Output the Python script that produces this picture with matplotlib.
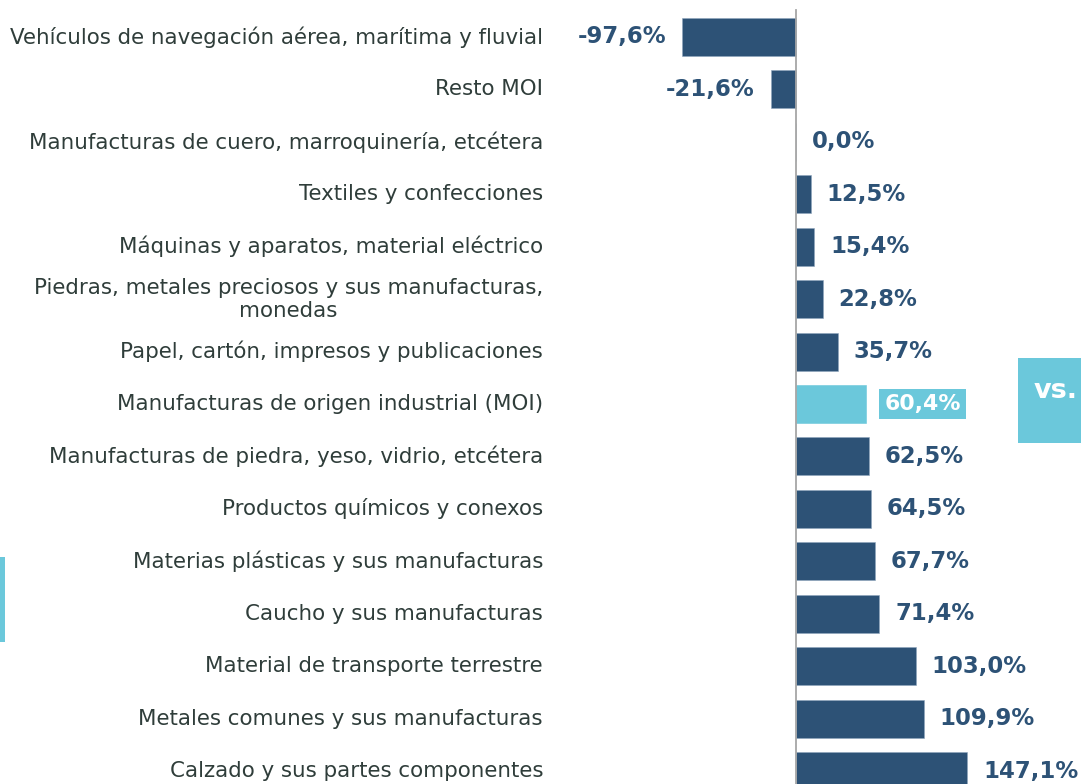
import matplotlib
matplotlib.use("Agg")
import matplotlib.pyplot as plt
from matplotlib.patches import Rectangle

categories = [
    "Vehículos de navegación aérea, marítima y fluvial",
    "Resto MOI",
    "Manufacturas de cuero, marroquinería, etcétera",
    "Textiles y confecciones",
    "Máquinas y aparatos, material eléctrico",
    "Piedras, metales preciosos y sus manufacturas,\nmonedas",
    "Papel, cartón, impresos y publicaciones",
    "Manufacturas de origen industrial (MOI)",
    "Manufacturas de piedra, yeso, vidrio, etcétera",
    "Productos químicos y conexos",
    "Materias plásticas y sus manufacturas",
    "Caucho y sus manufacturas",
    "Material de transporte terrestre",
    "Metales comunes y sus manufacturas",
    "Calzado y sus partes componentes",
]
values = [-97.6, -21.6, 0.0, 12.5, 15.4, 22.8, 35.7, 60.4, 62.5, 64.5, 67.7, 71.4, 103.0, 109.9, 147.1]
highlight = "Manufacturas de origen industrial (MOI)"

DARK = "#2D5276"
LIGHT = "#6BC8DB"
TXT = "#2F3D3A"

W, H = 1081, 784
fig = plt.figure(figsize=(W / 100, H / 100), dpi=100)
fig.patch.set_facecolor("white")

ax_left = 560
ppu = 1.163  # px per percent
zero_px = 796
ax = fig.add_axes([ax_left / W, 0, (W - ax_left) / W, 1])
ax.set_xlim((ax_left - zero_px) / ppu, (W - zero_px) / ppu)
row0, step = 37, 52.43
ax.set_ylim(14 + (H - (row0 + 14 * step)) / step, -row0 / step)
ax.axis("off")

n = len(categories)
ys = list(range(n))
colors = [LIGHT if c == highlight else DARK for c in categories]
bars = ax.barh(ys, values, height=0.725, color=colors, edgecolor="#8FA6BC", linewidth=0.4, zorder=2)
for b, c in zip(bars, categories):
    if c == highlight:
        b.set_edgecolor(LIGHT)

ax.axvline(0, ymin=0, ymax=(H - 10) / H, color="#A6A6A6", linewidth=1.3, zorder=3)

off = 16 / ppu
VFS = 16.4
for y, v, c in zip(ys, values, categories):
    lab = f"{v:.1f}%".replace(".", ",")
    if c == highlight:
        ax.text(v + off + 2 / ppu, y, lab, ha="left", va="center", fontsize=VFS - 0.6,
                fontweight="bold", color="white",
                bbox=dict(boxstyle="square,pad=0.22", facecolor=LIGHT, edgecolor="none"))
    elif v < 0:
        ax.text(v - off, y, lab, ha="right", va="center", fontsize=VFS,
                fontweight="bold", color=DARK)
    else:
        ax.text(max(v, 0) + off, y, lab, ha="left", va="center", fontsize=VFS,
                fontweight="bold", color=DARK)

for y, c in zip(ys, categories):
    ax.text((543 - zero_px) / ppu, y, c, ha="right", va="center", fontsize=15.4,
            color=TXT, multialignment="center", linespacing=1.2, clip_on=False)

# decorative boxes
fig.patches.append(Rectangle((1018 / W, 1 - 443 / H), 70 / W, 85 / H,
                             transform=fig.transFigure, facecolor=LIGHT, edgecolor="none"))
fig.text(1034 / W, 1 - 391 / H, "vs.", ha="left", va="center", fontsize=19.5,
         fontweight="bold", color="white")
fig.patches.append(Rectangle((0, 1 - 642 / H), 5 / W, 85 / H,
                             transform=fig.transFigure, facecolor=LIGHT, edgecolor="none"))

fig.savefig("out.png", dpi=100)
